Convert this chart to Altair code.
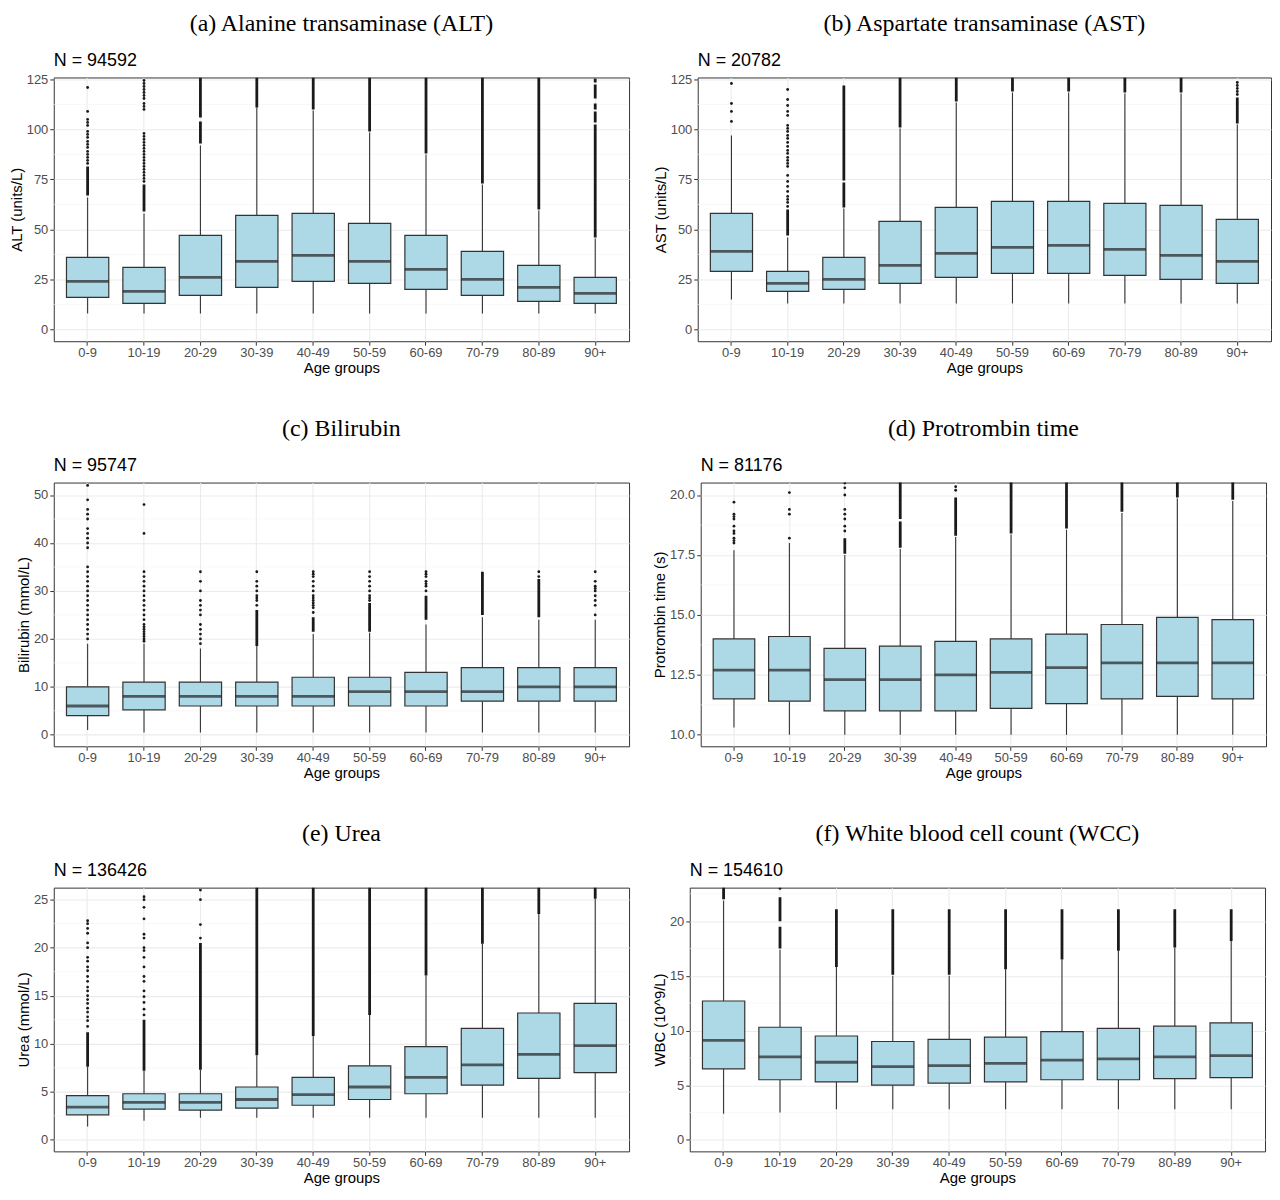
import altair as alt
import pandas as pd

ages = ["0-9", "10-19", "20-29", "30-39", "40-49", "50-59", "60-69", "70-79", "80-89", "90+"]

# ---------- (a) Alanine transaminase ----------
alat_q1 = [16, 13, 17, 21, 24, 23, 20, 17, 14, 13]
alat_med = [24, 19, 26, 34, 37, 34, 30, 25, 21, 18]
alat_q3 = [36, 31, 47, 57, 58, 53, 47, 39, 32, 26]
alat_lo = [8, 8, 8, 8, 8, 8, 8, 8, 8, 8]
alat_hi = [66, 58, 92, 111, 109.5, 98.5, 87.5, 72.5, 59.5, 45.5]
alat_runs = {
    "0-9": [(67, 81.5)],
    "10-19": [(59, 72.5)],
    "20-29": [(93, 104), (106, 126)],
    "30-39": [(111, 126)],
    "40-49": [(110, 126)],
    "50-59": [(99, 126)],
    "60-69": [(88, 126)],
    "70-79": [(73, 126)],
    "80-89": [(60, 126)],
    "90+": [(46, 102.5), (103.5, 109), (110, 113), (115.5, 122.5), (123.5, 125.5)],
}
alat_points = {
    "0-9": [121, 109, 105, 103.5, 102, 99, 97.5, 96, 94, 92.5, 91, 89, 87.5, 86, 84.5, 83],
    "10-19": [124.5, 123, 121.5, 120, 118.5, 117, 115.5, 113, 111.5, 110, 98, 96.5, 95, 93.5,
              92, 90.5, 89, 87.5, 86, 84.5, 83, 81.5, 80, 78.5, 77, 75.5, 74],
}

# ---------- (b) Aspartate transaminase ----------
asat_q1 = [29, 19, 20, 23, 26, 28, 28, 27, 25, 23]
asat_med = [39, 23, 25, 32, 38, 41, 42, 40, 37, 34]
asat_q3 = [58, 29, 36, 54, 61, 64, 64, 63, 62, 55]
asat_lo = [15, 13, 13, 13, 13, 13, 13, 13, 13, 13]
asat_hi = [97, 46, 60.5, 100.5, 113.5, 118.5, 118.5, 118, 118, 102.5]
asat_runs = {
    "10-19": [(47, 60)],
    "20-29": [(61, 73.5), (74.5, 122)],
    "30-39": [(101, 126)],
    "40-49": [(114, 126)],
    "50-59": [(119, 126)],
    "60-69": [(119, 126)],
    "70-79": [(118.5, 126)],
    "80-89": [(118.5, 126)],
    "90+": [(103, 116)],
}
asat_points = {
    "0-9": [104, 109, 113, 123],
    "10-19": [120, 115, 112, 109, 107, 102, 100.5, 99, 97, 95.5, 93.5, 91.5, 89.5, 88, 86,
              84.5, 83, 81.5, 77, 74, 71.5, 69, 66.5, 65, 63.5, 61.5],
    "90+": [117.5, 119, 120.5, 122, 123.5],
}

# ---------- (c) Bilirubin ----------
bili_q1 = [4, 5.2, 6, 6, 6, 6, 6, 7, 7, 7]
bili_med = [6, 8, 8, 8, 8, 9, 9, 9, 10, 10]
bili_q3 = [10, 11, 11, 11, 12, 12, 13, 14, 14, 14]
bili_lo = [1, 0.5, 0.5, 0.5, 0.5, 0.5, 0.5, 0.5, 0.5, 0.5]
bili_hi = [19, 19, 18, 18.5, 21, 21.3, 23, 24.5, 24, 24]
bili_runs = {
    "30-39": [(18.5, 26)],
    "40-49": [(21.5, 24.5)],
    "50-59": [(21.5, 27.5)],
    "60-69": [(24, 29)],
    "70-79": [(25, 34)],
    "80-89": [(24.5, 32.5)],
}
bili_points = {
    "0-9": [20, 21, 22, 23, 24, 25, 26, 27, 28, 29, 30, 31, 32, 33, 34, 35, 39, 40, 41, 42, 43,
            45, 46, 47, 49, 52],
    "10-19": [19.5, 20, 20.5, 21, 21.5, 22, 22.5, 23, 24, 25, 26, 27, 28, 29, 30, 31, 32, 33, 34,
              42, 48],
    "20-29": [19, 20, 21, 22, 23, 25, 26, 27, 28, 30, 32, 34],
    "30-39": [27, 28, 28.5, 29, 30, 31, 32, 34],
    "40-49": [25.5, 26.5, 27, 27.5, 28, 28.5, 29, 30, 31, 32, 33, 33.5, 34],
    "50-59": [28, 28.5, 29, 30, 31, 32, 33, 34],
    "60-69": [30, 31, 31.5, 32, 33, 33.5, 34],
    "80-89": [33, 34],
    "90+": [25, 27, 28, 29, 30, 30.5, 31, 32, 34],
}

# ---------- (d) Protrombin time ----------
prot_q1 = [11.5, 11.4, 11.0, 11.0, 11.0, 11.1, 11.3, 11.5, 11.6, 11.5]
prot_med = [12.7, 12.7, 12.3, 12.3, 12.5, 12.6, 12.8, 13.0, 13.0, 13.0]
prot_q3 = [14.0, 14.1, 13.6, 13.7, 13.9, 14.0, 14.2, 14.6, 14.9, 14.8]
prot_lo = [10.3, 10.0, 10.0, 10.0, 10.0, 10.0, 10.0, 10.0, 10.0, 10.0]
prot_hi = [17.7, 18.0, 17.5, 17.75, 18.25, 18.35, 18.55, 19.25, 19.85, 19.75]
prot_runs = {
    "20-29": [(17.55, 18.2)],
    "30-39": [(17.8, 18.9), (19.0, 20.6)],
    "40-49": [(18.3, 19.9)],
    "50-59": [(18.4, 20.6)],
    "60-69": [(18.6, 20.6)],
    "70-79": [(19.3, 20.6)],
    "80-89": [(19.9, 20.6)],
    "90+": [(19.8, 20.6)],
}
prot_points = {
    "0-9": [18.0, 18.1, 18.2, 18.4, 18.5, 18.7, 19.0, 19.1, 19.2, 19.7],
    "10-19": [18.2, 19.2, 19.4, 20.1],
    "20-29": [18.5, 18.7, 19.0, 19.2, 19.4, 20.0, 20.3, 20.5],
    "40-49": [20.2, 20.35],
}

# ---------- (e) Urea ----------
urea_q1 = [2.6, 3.2, 3.1, 3.3, 3.6, 4.2, 4.8, 5.7, 6.4, 7.0]
urea_med = [3.4, 3.9, 3.9, 4.2, 4.7, 5.5, 6.5, 7.8, 8.9, 9.8]
urea_q3 = [4.6, 4.8, 4.8, 5.5, 6.5, 7.7, 9.7, 11.6, 13.2, 14.2]
urea_lo = [1.4, 2.0, 2.3, 2.3, 2.3, 2.3, 2.3, 2.3, 2.3, 2.3]
urea_hi = [7.6, 7.2, 7.3, 8.8, 10.8, 13.0, 17.1, 20.4, 23.5, 25.1]
urea_runs = {
    "0-9": [(7.6, 11.2)],
    "10-19": [(7.2, 12.5)],
    "20-29": [(7.3, 20.5)],
    "30-39": [(8.8, 26.4)],
    "40-49": [(10.8, 26.4)],
    "50-59": [(13.0, 26.4)],
    "60-69": [(17.1, 26.4)],
    "70-79": [(20.4, 26.4)],
    "80-89": [(23.5, 26.4)],
    "90+": [(25.1, 26.4)],
}
urea_points = {
    "0-9": [11.8, 12.4, 12.8, 13.3, 13.7, 14.2, 14.6, 15.0, 15.5, 15.9, 16.5, 17.0, 17.6, 18.0,
            18.6, 19.0, 20.0, 20.5, 21.5, 22.0, 22.5, 22.8],
    "10-19": [13.0, 13.6, 14.3, 14.9, 15.5, 16.5, 17.0, 18.0, 19.0, 19.7, 20.0, 21.0, 21.4, 23.0,
              24.2, 25.0, 25.3],
    "20-29": [21.0, 22.4, 25.0, 26.0],
}

# ---------- (f) White blood cell count ----------
wbc_q1 = [6.5, 5.5, 5.3, 5.0, 5.2, 5.3, 5.5, 5.5, 5.6, 5.7]
wbc_med = [9.1, 7.6, 7.1, 6.7, 6.8, 7.0, 7.3, 7.4, 7.6, 7.7]
wbc_q3 = [12.7, 10.3, 9.5, 9.0, 9.2, 9.4, 9.9, 10.2, 10.4, 10.7]
wbc_lo = [2.4, 2.5, 2.8, 2.8, 2.8, 2.8, 2.8, 2.8, 2.8, 2.8]
wbc_hi = [21.9, 17.4, 15.8, 15.0, 15.0, 15.6, 16.5, 17.3, 17.6, 18.2]
wbc_runs = {
    "0-9": [(22.0, 23.2)],
    "10-19": [(17.5, 19.5), (20.0, 22.2)],
    "20-29": [(15.8, 21.1)],
    "30-39": [(15.1, 21.1)],
    "40-49": [(15.1, 21.1)],
    "50-59": [(15.6, 21.1)],
    "60-69": [(16.5, 21.1)],
    "70-79": [(17.3, 21.1)],
    "80-89": [(17.6, 21.1)],
    "90+": [(18.2, 21.1)],
}
wbc_points = {"10-19": [23.0]}

SANS = "Liberation Sans"
SERIF = "Liberation Serif"
DARK = "#333333"


def panel(caption, n_label, ytitle, q1, med, q3, lo, hi, runs, points,
          domain, ticks, minor, fmt, width, height):
    box = pd.DataFrame({"age": ages, "q1": q1, "med": med, "q3": q3, "lo": lo, "hi": hi})
    runs_df = pd.DataFrame([{"age": a, "start": s, "end": e}
                            for a, segs in runs.items() for s, e in segs],
                           columns=["age", "start", "end"])
    pts_df = pd.DataFrame([{"age": a, "value": v} for a, vals in points.items() for v in vals],
                          columns=["age", "value"])
    minor_df = pd.DataFrame({"v": minor})
    cap_df = pd.DataFrame({"t": [caption]})
    n_df = pd.DataFrame({"t": [n_label]})

    yscale = alt.Scale(domain=domain, nice=False, zero=False)
    yaxis = alt.Axis(title=ytitle, values=ticks, format=fmt, grid=True,
                     labelPadding=2, titlePadding=2)
    xscale = alt.Scale(domain=ages, paddingInner=0, paddingOuter=0.1)
    xaxis = alt.Axis(title="Age groups", labelAngle=0, bandPosition=0.5, grid=True,
                     labelPadding=1, titlePadding=1)

    def X():
        return alt.X("age:N", scale=xscale, axis=xaxis, sort=ages)

    def Y(f):
        return alt.Y(f"{f}:Q", scale=yscale, axis=yaxis)

    tick_size = 0.75 * width / 10.2

    minor_l = alt.Chart(minor_df).mark_rule(color="#F4F4F4", strokeWidth=0.6).encode(y=Y("v"))
    wh_hi = alt.Chart(box).mark_rule(color=DARK, strokeWidth=1.1).encode(
        x=X(), y=Y("q3"), y2="hi:Q")
    wh_lo = alt.Chart(box).mark_rule(color=DARK, strokeWidth=1.1).encode(
        x=X(), y=Y("lo"), y2="q1:Q")
    runs_l = alt.Chart(runs_df).mark_rule(color="#1A1A1A", strokeWidth=2.8, clip=True,
                                          strokeCap="butt").encode(
        x=X(), y=Y("start"), y2="end:Q")
    pts_l = alt.Chart(pts_df).mark_circle(color="#1A1A1A", size=8, opacity=1, clip=True).encode(
        x=X(), y=Y("value"))
    box_l = alt.Chart(box).mark_bar(width=alt.RelativeBandSize(0.75), fill="#ADD8E6",
                                    stroke=DARK, strokeWidth=1.2).encode(
        x=X(), y=Y("q1"), y2="q3:Q")
    med_l = alt.Chart(box).mark_tick(color="#222222", thickness=2.8, size=tick_size,
                                     orient="horizontal").encode(x=X(), y=Y("med"))
    cap_l = alt.Chart(cap_df).mark_text(font=SERIF, fontSize=24, align="center",
                                        baseline="alphabetic", color="black").encode(
        text="t:N", x=alt.value(width / 2), y=alt.value(-47))
    n_l = alt.Chart(n_df).mark_text(font=SANS, fontSize=18, align="left",
                                    baseline="alphabetic", color="black").encode(
        text="t:N", x=alt.value(0), y=alt.value(-12))

    return alt.layer(minor_l, wh_hi, wh_lo, runs_l, pts_l, box_l, med_l, cap_l, n_l).properties(
        width=width, height=height,
    )


H = 265
pa = panel("(a) Alanine transaminase (ALT)", "N = 94592", "ALT (units/L)",
           alat_q1, alat_med, alat_q3, alat_lo, alat_hi, alat_runs, alat_points,
           [-5.9, 126.0], [0, 25, 50, 75, 100, 125], [12.5, 37.5, 62.5, 87.5, 112.5], "d", 578, H)
pb = panel("(b) Aspartate transaminase (AST)", "N = 20782", "AST (units/L)",
           asat_q1, asat_med, asat_q3, asat_lo, asat_hi, asat_runs, asat_points,
           [-5.9, 126.0], [0, 25, 50, 75, 100, 125], [12.5, 37.5, 62.5, 87.5, 112.5], "d", 576, H)
pc = panel("(c) Bilirubin", "N = 95747", "Bilirubin (mmol/L)",
           bili_q1, bili_med, bili_q3, bili_lo, bili_hi, bili_runs, bili_points,
           [-2.4, 52.6], [0, 10, 20, 30, 40, 50], [5, 15, 25, 35, 45], "d", 578, H)
pd_ = panel("(d) Protrombin time", "N = 81176", "Protrombin time (s)",
            prot_q1, prot_med, prot_q3, prot_lo, prot_hi, prot_runs, prot_points,
            [9.52, 20.52], [10.0, 12.5, 15.0, 17.5, 20.0], [11.25, 13.75, 16.25, 18.75], ".1f", 568, H)
pe = panel("(e) Urea", "N = 136426", "Urea (mmol/L)",
           urea_q1, urea_med, urea_q3, urea_lo, urea_hi, urea_runs, urea_points,
           [-1.2, 26.25], [0, 5, 10, 15, 20, 25], [2.5, 7.5, 12.5, 17.5, 22.5], "d", 578, H)
pf = panel("(f) White blood cell count (WCC)", "N = 154610", "WBC (10^9/L)",
           wbc_q1, wbc_med, wbc_q3, wbc_lo, wbc_hi, wbc_runs, wbc_points,
           [-1.05, 23.07], [0, 5, 10, 15, 20], [2.5, 7.5, 12.5, 17.5, 22.5], "d", 578, H)

row1 = alt.hconcat(pa, pb, spacing=22)
row2 = alt.hconcat(pc, pd_, spacing=22)
row3 = alt.hconcat(pe, pf, spacing=22)

chart = alt.vconcat(row1, row2, row3, spacing=40).properties(
    padding=0
).configure_view(
    stroke=DARK, strokeWidth=1
).configure_axis(
    domain=False, tickColor=DARK, tickSize=4, tickWidth=1,
    labelFont=SANS, labelFontSize=13, labelColor="#4D4D4D",
    titleFont=SANS, titleFontSize=15, titleFontWeight="normal", titleColor="black",
    gridColor="#EBEBEB", gridWidth=1.1,
)

chart.save("out.html", embed_options={"renderer": "svg", "actions": False})
